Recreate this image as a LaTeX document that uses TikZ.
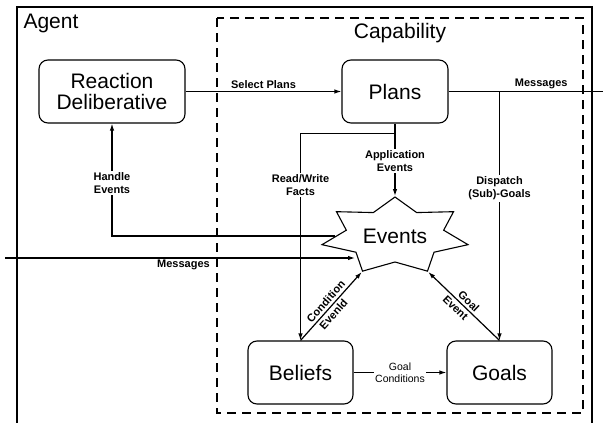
\documentclass[tikz,border=0pt]{standalone}
\usepackage{fontspec}
\setmainfont{Liberation Sans}
\usetikzlibrary{shapes.geometric, arrows.meta}
\newcommand{\bigtxt}{\fontsize{21}{23}\selectfont}
\newcommand{\smalltxt}{\fontsize{11}{13}\selectfont\bfseries}
\tikzset{
    part/.style = {draw, rounded corners=9pt, line width=1.1pt, font=\bigtxt, align=center,
                   minimum height=63pt},
    flow/.style = {line width=1.2pt, -{Latex[length=7pt,width=4.5pt]}},
    wire/.style = {line width=1.2pt},
    lbl/.style = {font=\smalltxt, align=center, fill=white, inner sep=1.5pt},
    tag/.style = {font=\smalltxt, inner sep=1.5pt}
}

\begin{document}
\begin{tikzpicture}[x=1pt, y=-1pt]
        \useasboundingbox (0,0) rectangle (603,423);
        % agent and capability frames
        \draw[line width=1.4pt] (17,423) -- (17,7) -- (592,7) -- (592,423);
        \node (agent) [font=\bigtxt, anchor=west] at (20,23) {Agent};
        \draw[line width=1.1pt, dash pattern=on 9pt off 6pt] (217,18) rectangle (583,413);
        \node (capability) [font=\bigtxt] at (400,33) {Capability};
        % parts
        \node (rd) [part, minimum width=146pt] at (112,91.5) {Reaction\\[-2pt]Deliberative};
        \node (pl) [part, minimum width=106pt] at (395,91.5) {Plans};
        \node (bl) [part, minimum width=105pt] at (300.5,372.5) {Beliefs};
        \node (gl) [part, minimum width=105pt] at (499.5,372.5) {Goals};
        \node (ev) [star, star points=7, star point ratio=1.5, draw, line width=1.1pt,
                    minimum size=78pt, inner sep=0pt, xscale=1.92, transform shape] at (395,236) {};
        \node (evtxt) [font=\bigtxt] at (ev.center) {Events};
        % connectors
        \coordinate (mout) at (603,91.5);
        \coordinate (min) at (5,258);
        \draw[flow] (rd) -- node[tag, above=1pt] {Select Plans} (pl);
        \draw[wire] (pl) -- node[tag, above=1pt, pos=0.6] {Messages} (mout);
        \draw[flow] (gl.north |- pl.east) -- node[lbl, pos=0.39] {Dispatch\\(Sub)-Goals} (gl.north);
        \draw[wire] (pl.south) -- ++(0,10) coordinate (pj);
        \draw[flow] (pj) -| node[lbl, pos=0.625] {Read/Write\\Facts} (bl.north);
        \draw[flow] (pj) -- node[lbl, pos=0.44] {Application\\Events} (ev.outer point 1);
        \draw[flow] (ev.west) -| node[lbl, pos=0.735] {Handle\\Events} (rd.south);
        \draw[flow] (min) -- node[tag, below, pos=0.51] {Messages} (min -| ev.inner point 3);
        \draw[flow] (bl.north) -- node[tag, sloped, above=1pt] {Condition}
            node[tag, sloped, below=1pt, pos=0.45] {Evenld} (ev.outer point 4);
        \draw[flow] (gl.north) -- node[tag, sloped, above=1pt] {Goal}
            node[tag, sloped, below=1pt, pos=0.55] {Event} (ev.outer point 5);
        \draw[flow] (bl) -- node[lbl, font=\fontsize{10.5}{12}\selectfont] {Goal\\Conditions} (gl);
    \end{tikzpicture}
\end{document}
